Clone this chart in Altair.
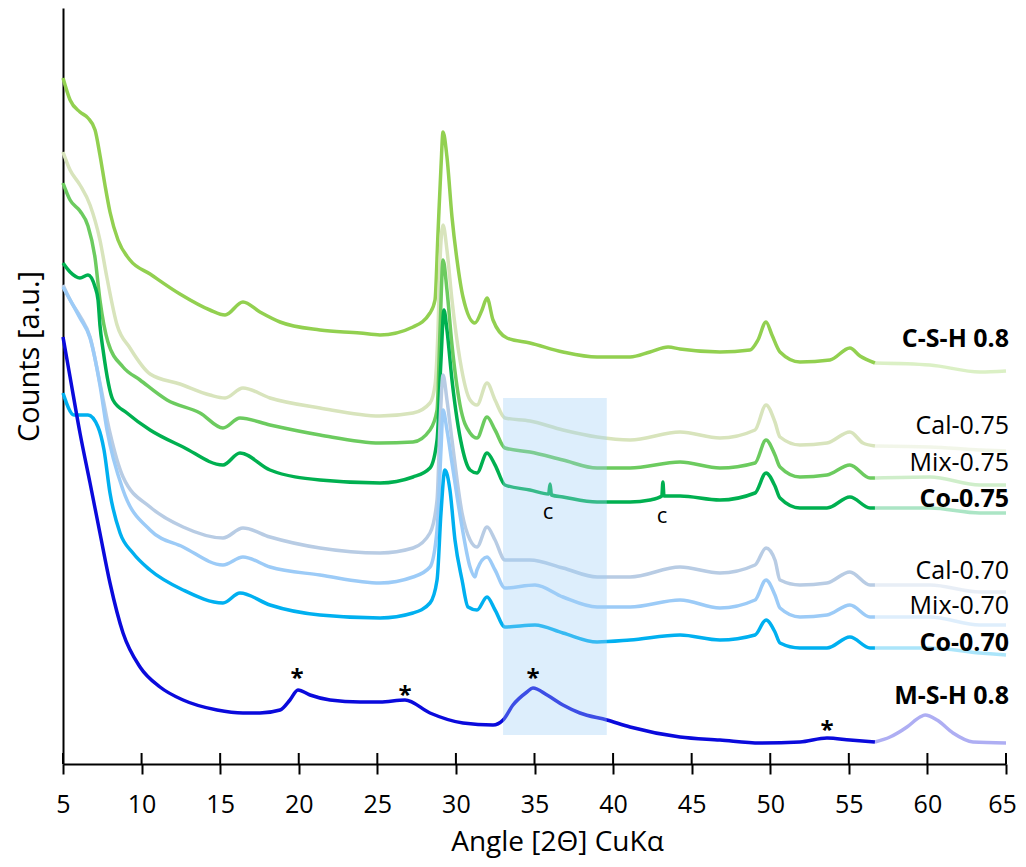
import altair as alt
import pandas as pd

# ---------------- data (angle in 2theta, intensity in arbitrary units) ----------------
csh_angle = [5.0, 5.45, 6.08, 6.59, 7.04, 7.35, 7.67, 7.99, 8.5, 9.26, 10.54, 12.44, 14.35, 15.31, 16.45, 17.53,
             18.81, 21.35, 23.9, 25.17, 27.27, 28.35, 28.67, 28.86, 29.05, 29.18, 29.43, 29.75, 30.07, 30.45,
             31.21, 31.66, 31.98, 32.36, 33.25, 34.71, 36.81, 38.98, 41.08, 42.35, 43.5, 44.26, 46.8, 48.71,
             49.22, 49.73, 50.11, 50.62, 51.89, 53.8, 55.07, 55.71, 56.66, 60.16, 63.34, 65.0]
csh_counts = [686, 664, 652, 646, 634, 609, 579, 552, 524, 504, 490, 470, 454, 449, 462, 452, 442, 434, 431, 429,
              437, 451, 464, 531, 597, 632, 607, 547, 504, 467, 441, 454, 466, 444, 426, 421, 412, 407, 407, 412,
              417, 415, 412, 414, 424, 442, 429, 412, 402, 404, 416, 408, 401, 399, 392, 393]

cal75_angle = [5.0, 5.45, 6.08, 6.72, 7.35, 7.8, 8.44, 9.26, 10.54, 12.44, 14.35, 15.31, 16.45, 18.17, 21.35, 25.17,
               27.27, 28.35, 28.67, 28.86, 28.99, 29.18, 29.43, 29.75, 30.26, 30.9, 31.34, 31.98, 32.49, 33.12,
               34.71, 36.81, 38.98, 41.08, 44.26, 46.8, 49.03, 49.73, 50.3, 50.62, 51.89, 53.61, 55.07, 55.9,
               56.66, 60.16, 63.34, 65.0]
cal75_counts = [612, 594, 579, 559, 524, 486, 439, 416, 390, 380, 369, 366, 376, 366, 356, 348, 351, 361, 379, 434,
                504, 539, 514, 464, 404, 364, 359, 381, 364, 346, 343, 334, 327, 324, 332, 326, 334, 359, 342, 327,
                319, 321, 332, 321, 318, 317, 314, 313]

mix75_angle = [5.0, 5.45, 6.08, 6.59, 7.04, 7.35, 7.86, 8.82, 9.9, 11.62, 13.72, 15.18, 16.26, 18.17, 21.35, 25.17,
               27.27, 28.35, 28.8, 28.99, 29.18, 29.43, 29.75, 30.26, 30.9, 31.34, 31.98, 32.49, 33.12, 34.71,
               36.81, 38.98, 41.08, 44.26, 46.8, 49.03, 49.73, 50.3, 50.62, 51.89, 53.61, 55.07, 56.35, 56.66,
               60.16, 63.34, 65.0]
mix75_counts = [581, 564, 553, 538, 506, 464, 422, 397, 384, 364, 351, 336, 346, 339, 329, 321, 322, 334, 354, 434,
                504, 474, 419, 359, 331, 326, 347, 334, 316, 312, 304, 296, 296, 302, 296, 301, 324, 309, 297, 287,
                289, 299, 286, 286, 287, 279, 279]

co75_angle = [5.0, 5.45, 6.08, 6.59, 7.04, 7.23, 7.35, 7.55, 8.18, 9.07, 10.54, 12.64, 15.18, 16.26, 18.17, 21.35,
              25.17, 27.27, 28.35, 28.8, 29.05, 29.24, 29.43, 29.75, 30.39, 30.9, 31.34, 31.98, 32.49, 33.12, 34.71,
              35.9, 35.99, 36.08, 36.81, 38.98, 41.08, 42.35, 43.1, 43.17, 43.24, 44.26, 46.8, 49.03, 49.73, 50.3,
              50.62, 51.89, 53.61, 55.07, 56.35, 56.66, 60.16, 63.34, 65.0]
co75_counts = [501, 492, 486, 489, 477, 464, 439, 414, 364, 351, 334, 317, 299, 311, 294, 284, 281, 287, 296, 324,
               404, 454, 434, 384, 317, 294, 291, 311, 299, 279, 274, 270, 280, 269, 267, 262, 262, 264, 268, 282,
               268, 268, 264, 271, 291, 278, 266, 256, 256, 267, 256, 256, 256, 251, 251]

cal70_angle = [5.0, 5.45, 6.08, 6.72, 7.35, 7.99, 8.82, 10.54, 12.64, 15.18, 16.45, 18.17, 21.35, 25.17, 27.27,
               28.35, 28.8, 29.0, 29.18, 29.43, 29.75, 30.39, 30.9, 31.34, 31.98, 32.49, 33.12, 34.71, 36.81, 38.98,
               41.08, 44.26, 46.8, 49.03, 49.73, 50.3, 50.62, 51.89, 53.61, 55.07, 56.35, 56.66, 60.16, 63.34, 65.0]
cal70_counts = [479, 464, 448, 427, 381, 331, 287, 257, 237, 226, 236, 227, 216, 211, 216, 231, 264, 344, 389, 364,
                324, 251, 224, 217, 237, 224, 204, 204, 196, 187, 187, 197, 191, 199, 216, 204, 184, 179, 181, 192,
                179, 179, 179, 172, 172]

mix70_angle = [5.0, 6.08, 6.72, 7.35, 7.8, 8.82, 10.54, 12.64, 15.18, 16.45, 18.17, 21.35, 25.17, 27.27, 28.35,
               28.8, 29.05, 29.18, 29.43, 29.75, 30.39, 30.9, 31.21, 31.34, 31.98, 32.49, 33.12, 35.03, 36.81, 38.98,
               41.08, 44.26, 46.8, 49.03, 49.73, 50.3, 50.62, 51.89, 53.61, 55.07, 56.35, 56.66, 60.16, 63.34, 65.0]
mix70_counts = [477, 446, 426, 379, 334, 274, 234, 217, 199, 207, 197, 189, 181, 187, 197, 234, 314, 354, 334, 301,
                237, 197, 187, 194, 207, 194, 176, 179, 167, 157, 157, 164, 156, 164, 184, 169, 156, 147, 149, 159,
                147, 147, 147, 139, 139]

co70_angle = [5.0, 5.7, 6.59, 7.23, 7.61, 7.99, 8.63, 9.45, 10.54, 12.64, 15.18, 16.26, 18.17, 21.35, 25.17, 27.27,
              28.35, 28.8, 29.05, 29.3, 29.62, 29.94, 30.39, 30.77, 31.34, 31.98, 32.49, 33.12, 35.03, 36.81, 38.98,
              41.08, 44.26, 46.8, 49.03, 49.73, 50.3, 50.62, 51.89, 53.61, 55.07, 56.35, 56.66, 60.16, 63.34, 65.0]
co70_counts = [371, 349, 349, 337, 314, 271, 231, 211, 194, 174, 161, 171, 159, 149, 146, 151, 161, 184, 251, 294,
               274, 224, 184, 157, 154, 167, 154, 137, 139, 131, 122, 124, 129, 124, 129, 144, 132, 121, 116, 116,
               127, 116, 116, 116, 111, 109]

msh_angle = [5.0, 5.45, 6.08, 6.72, 7.35, 7.99, 8.82, 9.9, 11.17, 12.64, 14.8, 16.45, 17.53, 18.81, 19.44, 19.95,
             20.72, 21.99, 23.9, 25.17, 26.76, 28.35, 30.45, 32.36, 33.0, 33.63, 34.52, 34.9, 35.8, 36.81, 37.89,
             39.61, 41.08, 44.26, 46.8, 49.35, 51.89, 53.61, 55.07, 56.66, 57.62, 58.7, 59.53, 59.85, 60.61, 61.63,
             62.9, 65.0]
msh_counts = [427, 387, 331, 281, 231, 181, 131, 97, 77, 64, 54, 51, 51, 54, 64, 74, 69, 64, 62, 62, 64, 51, 41, 39,
              44, 59, 72, 76, 69, 59, 51, 44, 37, 27, 24, 21, 22, 26, 24, 22, 27, 37, 47, 49, 44, 31, 22, 21]

series_names = ["C-S-H 0.8", "Cal-0.75", "Mix-0.75", "Co-0.75", "Cal-0.70", "Mix-0.70", "Co-0.70", "M-S-H 0.8"]
series_colors = ["#92D050", "#D8E4BC", "#6CCB5F", "#00B050", "#B8CCE4", "#9CCBF7", "#00B0F0", "#0A0ADC"]
series_bold = [True, False, False, True, False, False, True, True]
label_counts = [425, 338, 301, 265, 193, 158, 121, 68]

x_ticks = [5, 10, 15, 20, 25, 30, 35, 40, 45, 50, 55, 60, 65]
fade_from = 56.66

star_angle = [19.89, 26.76, 34.9, 53.61]
star_counts = [78, 61, 78, 26]
c_angle = [35.86, 43.11]
c_counts = [245, 241]

shade_angle = [33.0, 39.6]
shade_counts = [29, 366]

# ---------------- build tables ----------------
all_angles = [csh_angle, cal75_angle, mix75_angle, co75_angle, cal70_angle, mix70_angle, co70_angle, msh_angle]
all_counts = [csh_counts, cal75_counts, mix75_counts, co75_counts, cal70_counts, mix70_counts, co70_counts, msh_counts]

rows = []
for name, ang, cnt in zip(series_names, all_angles, all_counts):
    assert len(ang) == len(cnt), name
    for a, c in zip(ang, cnt):
        if a <= fade_from:
            rows.append({"series": name, "angle": a, "counts": c, "part": "main"})
        if a >= fade_from:
            rows.append({"series": name, "angle": a, "counts": c, "part": "fade"})
df = pd.DataFrame(rows)

labels_df = pd.DataFrame({"series": series_names, "counts": label_counts, "bold": series_bold,
                          "angle": [x_ticks[-1]] * len(series_names)})
ticks_df = pd.DataFrame({"angle": x_ticks, "lo": [0] * len(x_ticks), "hi": [11] * len(x_ticks)})
stars_df = pd.DataFrame({"angle": star_angle, "counts": star_counts, "t": ["*"] * len(star_angle)})
c_df = pd.DataFrame({"angle": c_angle, "counts": c_counts, "t": ["c"] * len(c_angle)})
shade_df = pd.DataFrame({"a1": [shade_angle[0]], "a2": [shade_angle[1]],
                         "c1": [shade_counts[0]], "c2": [shade_counts[1]]})

FONT = "Open Sans"
x_scale = alt.Scale(domain=[5, 65], nice=False, zero=False)
y_scale = alt.Scale(domain=[0, 756], nice=False, zero=True)
color_scale = alt.Scale(domain=series_names, range=series_colors)

x_axis = alt.Axis(title="Angle [2Θ] CuKα", values=x_ticks, format="d", grid=False,
                  tickSize=10, tickWidth=2, tickColor="black", domainColor="black", domainWidth=2,
                  labelFont=FONT, labelFontSize=25, labelColor="black", labelPadding=18, labelFlush=False,
                  labelOffset={"condition": {"test": "datum.value == 65", "value": -4}, "value": 0},
                  titleFont=FONT, titleFontSize=28, titleFontWeight="normal", titleColor="black",
                  titleX=494, titleY=86, titleBaseline="alphabetic", titleAlign="center")
y_axis = alt.Axis(title="Counts [a.u.]", labels=False, ticks=False, grid=False,
                  domainColor="black", domainWidth=2,
                  titleFont=FONT, titleFontSize=29, titleFontWeight="normal", titleColor="black",
                  titleX=-25, titleY=348, titleBaseline="alphabetic", titleAlign="center", titleAngle=-90)

LW = 3.5
base = alt.Chart(df)
main = base.transform_filter(alt.datum.part == "main").mark_line(
    strokeWidth=LW, strokeJoin="round", interpolate="monotone").encode(
    x=alt.X("angle:Q", scale=x_scale, axis=x_axis),
    y=alt.Y("counts:Q", scale=y_scale, axis=y_axis),
    color=alt.Color("series:N", scale=color_scale, legend=None),
    order=alt.Order("angle:Q"),
)
fade = base.transform_filter(alt.datum.part == "fade").mark_line(
    strokeWidth=LW, strokeJoin="round", interpolate="monotone", opacity=0.33).encode(
    x=alt.X("angle:Q", scale=x_scale),
    y=alt.Y("counts:Q", scale=y_scale),
    color=alt.Color("series:N", scale=color_scale, legend=None),
    order=alt.Order("angle:Q"),
)

shade = alt.Chart(shade_df).mark_rect(fill="#9DCDF5", opacity=0.35).encode(
    x=alt.X("a1:Q", scale=x_scale), x2="a2:Q",
    y=alt.Y("c1:Q", scale=y_scale), y2="c2:Q",
)

inner_ticks = alt.Chart(ticks_df).mark_rule(color="black", strokeWidth=2).encode(
    x=alt.X("angle:Q", scale=x_scale), y=alt.Y("lo:Q", scale=y_scale), y2="hi:Q"
)

lab_bold = alt.Chart(labels_df).transform_filter(alt.datum.bold == True).mark_text(
    align="right", baseline="middle", dx=3, font=FONT, fontSize=25, fontWeight="bold", color="black"
).encode(x=alt.X("angle:Q", scale=x_scale), y=alt.Y("counts:Q", scale=y_scale), text="series:N")
lab_reg = alt.Chart(labels_df).transform_filter(alt.datum.bold == False).mark_text(
    align="right", baseline="middle", dx=3, font=FONT, fontSize=25, fontWeight="normal", color="black"
).encode(x=alt.X("angle:Q", scale=x_scale), y=alt.Y("counts:Q", scale=y_scale), text="series:N")

stars = alt.Chart(stars_df).mark_text(
    align="center", baseline="alphabetic", font=FONT, fontSize=24, fontWeight="bold", color="black"
).encode(x=alt.X("angle:Q", scale=x_scale), y=alt.Y("counts:Q", scale=y_scale), text="t:N")
cs = alt.Chart(c_df).mark_text(
    align="center", baseline="alphabetic", font=FONT, fontSize=22, color="black"
).encode(x=alt.X("angle:Q", scale=x_scale), y=alt.Y("counts:Q", scale=y_scale), text="t:N")

chart = alt.layer(main, fade, shade, inner_ticks, lab_bold, lab_reg, stars, cs).properties(
    width=943, height=756,
    autosize=alt.AutoSizeParams(type="none"),
    padding={"left": 55, "top": 0, "right": 12, "bottom": 95},
    background="white",
).configure_view(stroke=None)

chart.save("out.html", embed_options={"renderer": "svg", "actions": False})
